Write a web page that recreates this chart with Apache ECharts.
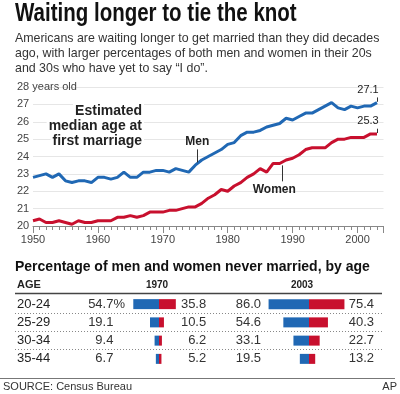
<!DOCTYPE html>
<html>
<head>
<meta charset="utf-8">
<script src="https://cdn.jsdelivr.net/npm/echarts@6/dist/echarts.min.js"></script>
<style>
  html, body { margin: 0; padding: 0; background: #fff; }
  #main { width: 400px; height: 394px; }
</style>
</head>
<body>
<div id="main"></div>
<script>
// median age at first marriage, by year
const years = [1950, 1951, 1952, 1953, 1954, 1955, 1956, 1957, 1958, 1959,
    1960, 1961, 1962, 1963, 1964, 1965, 1966, 1967, 1968, 1969,
    1970, 1971, 1972, 1973, 1974, 1975, 1976, 1977, 1978, 1979,
    1980, 1981, 1982, 1983, 1984, 1985, 1986, 1987, 1988, 1989,
    1990, 1991, 1992, 1993, 1994, 1995, 1996, 1997, 1998, 1999,
    2000, 2001, 2002, 2003];
const menAge = [22.8, 22.9, 23.0, 22.8, 23.0, 22.6, 22.5, 22.6, 22.6, 22.5,
    22.8, 22.8, 22.7, 22.8, 23.1, 22.8, 22.8, 23.1, 23.1, 23.2,
    23.2, 23.1, 23.3, 23.2, 23.1, 23.5, 23.8, 24.0, 24.2, 24.4,
    24.7, 24.8, 25.2, 25.4, 25.4, 25.5, 25.7, 25.8, 25.9, 26.2,
    26.1, 26.3, 26.5, 26.5, 26.7, 26.9, 27.1, 26.8, 26.7, 26.9,
    26.8, 26.9, 26.9, 27.1];
const womenAge = [20.3, 20.4, 20.2, 20.2, 20.3, 20.2, 20.1, 20.3, 20.2, 20.2,
    20.3, 20.3, 20.3, 20.5, 20.5, 20.6, 20.5, 20.6, 20.8, 20.8,
    20.8, 20.9, 20.9, 21.0, 21.1, 21.1, 21.3, 21.6, 21.8, 22.1,
    22.0, 22.3, 22.5, 22.8, 23.0, 23.3, 23.1, 23.6, 23.6, 23.8,
    23.9, 24.1, 24.4, 24.5, 24.5, 24.5, 24.8, 25.0, 25.0, 25.1,
    25.1, 25.1, 25.3, 25.3];

// percentage never married
const ages = ['20-24', '25-29', '30-34', '35-44'];
const men1970 = [54.7, 19.1, 9.4, 6.7];
const women1970 = [35.8, 10.5, 6.2, 5.2];
const men2003 = [86.0, 54.6, 33.1, 19.5];
const women2003 = [75.4, 40.3, 22.7, 13.2];

const BLUE = '#2068b4';
const RED = '#c8102e';
const FONT = '"Liberation Sans", Arial, sans-serif';

var chartDom = document.getElementById('main');
var myChart = echarts.init(chartDom, null, {renderer: 'canvas'});

function pairs(xs, ys) {
    return xs.map((x, i) => [x, ys[i]]);
}

function tickLabel(text, bold, dx) {
    return {
        show: true, position: 'end', distance: 2,
        offset: [dx, 0],
        formatter: text, color: '#222',
        fontFamily: FONT, fontSize: bold ? 12 : 11,
        fontWeight: bold ? 'bold' : 'normal'
    };
}

// number column as a category axis with no line
function numberAxis(gridIndex, position, margin, values, pct) {
    return {
        type: 'category', gridIndex: gridIndex, data: ages, inverse: true,
        position: position,
        axisLine: {show: false}, axisTick: {show: false}, splitLine: {show: false},
        axisLabel: {
            margin: margin, align: 'right',
            formatter: (v, i) => {
                const s = values[i].toFixed(1);
                if (!pct) return s;
                return i === 0 ? '{v|' + s + '}{p|%}' : '{v|' + s + '}{h|%}';
            },
            color: '#333', fontFamily: FONT, fontSize: 13,
            rich: {
                v: {color: '#333', fontFamily: FONT, fontSize: 13},
                p: {color: '#333', fontFamily: FONT, fontSize: 13},
                h: {color: 'rgba(0,0,0,0)', fontFamily: FONT, fontSize: 13}
            }
        }
    };
}

function barSeries(axisIdx, values, color, sign) {
    return {
        type: 'bar', xAxisIndex: axisIdx, yAxisIndex: axisIdx === 2 ? 1 : 4,
        data: values.map(v => sign * v),
        barWidth: 10, barGap: '-100%',
        itemStyle: {color: color},
        silent: true
    };
}

function noteText(text, y) {
    return {type: 'text', x: 144, y: y, z: 10, style: {
        text: text, fill: '#222', font: 'bold 14px ' + FONT,
        textAlign: 'right', textVerticalAlign: 'middle',
        backgroundColor: '#fff', padding: [0, 2]}};
}

const lastMen = menAge[menAge.length - 1];
const lastWomen = womenAge[womenAge.length - 1];
const lastYear = years[years.length - 1];

var option = {
    backgroundColor: '#fff',
    animation: false,
    grid: [
        {left: 33, right: 16.5, top: 87, height: 139},
        {left: 130.8, width: 56.4, top: 295, height: 73},
        {left: 266.7, width: 84.6, top: 295, height: 73}
    ],
    xAxis: [
        {
            type: 'value', gridIndex: 0, min: 1950, max: 2004, interval: 1,
            axisLine: {lineStyle: {color: '#888', width: 1}},
            axisTick: {length: 4, lineStyle: {color: '#888'}},
            splitLine: {show: false},
            axisLabel: {
                formatter: v => (v % 10 === 0 ? String(v) : ''),
                color: '#444', fontFamily: FONT, fontSize: 11, margin: 8
            }
        },
        {
            type: 'value', gridIndex: 0, min: 1950, max: 2004, interval: 10,
            position: 'bottom',
            axisLine: {show: false},
            axisTick: {length: 7, lineStyle: {color: '#888'}},
            axisLabel: {show: false}, splitLine: {show: false}
        },
        {type: 'value', gridIndex: 1, min: -60, max: 60, show: false},
        {type: 'value', gridIndex: 2, min: -90, max: 90, show: false}
    ],
    yAxis: [
        {
            type: 'value', gridIndex: 0, min: 20, max: 28, interval: 1,
            axisLine: {show: false}, axisTick: {show: false},
            splitLine: {lineStyle: {color: '#e6e6e6', width: 1}},
            axisLabel: {
                formatter: v => (v === 28 ? '28 years old' : String(v)),
                align: 'left', margin: 16,
                color: '#444', fontFamily: FONT, fontSize: 11
            }
        },
        {
            type: 'category', gridIndex: 1, data: ages, inverse: true, position: 'left',
            axisLine: {show: false}, axisTick: {show: false}, splitLine: {show: false},
            axisLabel: {align: 'left', margin: 113.8, color: '#222', fontFamily: FONT, fontSize: 13}
        },
        numberAxis(1, 'left', 5.8, men1970, true),
        numberAxis(1, 'right', 19, women1970, false),
        numberAxis(2, 'left', 5.7, men2003, false),
        numberAxis(2, 'right', 22.7, women2003, false)
    ],
    series: [
        {
            name: 'Men', type: 'line', xAxisIndex: 0, yAxisIndex: 0,
            data: pairs(years, menAge),
            symbol: 'none', lineStyle: {color: BLUE, width: 3}, itemStyle: {color: BLUE},
            silent: true,
            markLine: {
                silent: true, symbol: 'none',
                lineStyle: {color: '#333', width: 1, type: 'solid'},
                data: [
                    [{coord: [1975.3, 23.66], label: tickLabel('Men', true, 0)},
                     {coord: [1975.3, 24.41]}],
                    [{coord: [lastYear, lastMen + 0.05], label: tickLabel(lastMen.toFixed(1), false, -9)},
                     {coord: [lastYear, lastMen + 0.3]}]
                ]
            }
        },
        {
            name: 'Women', type: 'line', xAxisIndex: 0, yAxisIndex: 0,
            data: pairs(years, womenAge),
            symbol: 'none', lineStyle: {color: RED, width: 3}, itemStyle: {color: RED},
            silent: true,
            markLine: {
                silent: true, symbol: 'none',
                lineStyle: {color: '#333', width: 1, type: 'solid'},
                data: [
                    [{coord: [1988.4, 23.49], label: tickLabel('Women', true, -8)},
                     {coord: [1988.4, 22.57]}],
                    [{coord: [lastYear, lastWomen + 0.05], label: tickLabel(lastWomen.toFixed(1), false, -9)},
                     {coord: [lastYear, lastWomen + 0.3]}]
                ]
            }
        },
        barSeries(2, men1970, BLUE, -1),
        barSeries(2, women1970, RED, 1),
        barSeries(3, men2003, BLUE, -1),
        barSeries(3, women2003, RED, 1)
    ],
    graphic: [
        {type: 'text', x: 15, y: 14, scaleX: 0.82, style: {
            text: 'Waiting longer to tie the knot', fill: '#111',
            font: 'bold 25px ' + FONT,
            textVerticalAlign: 'middle'}},
        {type: 'text', x: 15, y: 39, style: {
            text: 'Americans are waiting longer to get married than they did decades',
            fill: '#333', font: '12.4px ' + FONT, textVerticalAlign: 'middle'}},
        {type: 'text', x: 15, y: 54, style: {
            text: 'ago, with larger percentages of both men and women in their 20s',
            fill: '#333', font: '12.4px ' + FONT, textVerticalAlign: 'middle'}},
        {type: 'text', x: 15, y: 68.5, style: {
            text: 'and 30s who have yet to say \u201cI do\u201d.',
            fill: '#333', font: '12.4px ' + FONT, textVerticalAlign: 'middle'}},
        noteText('Estimated', 111),
        noteText('median age at', 126),
        noteText('first marriage', 141),
        {type: 'text', x: 15, y: 267, style: {
            text: 'Percentage of men and women never married, by age',
            fill: '#111', font: 'bold 14px ' + FONT, textVerticalAlign: 'middle'}},
        {type: 'text', x: 17, y: 285, style: {
            text: 'AGE', fill: '#222', font: 'bold 11px ' + FONT, textVerticalAlign: 'middle'}},
        {type: 'text', x: 157, y: 285, style: {
            text: '1970', fill: '#222', font: 'bold 10px ' + FONT,
            textAlign: 'center', textVerticalAlign: 'middle'}},
        {type: 'text', x: 302, y: 285, style: {
            text: '2003', fill: '#222', font: 'bold 10px ' + FONT,
            textAlign: 'center', textVerticalAlign: 'middle'}},
        // table rules
        {type: 'line', shape: {x1: 15, y1: 293.5, x2: 382, y2: 293.5},
            style: {stroke: '#444', lineWidth: 1.5}},
        {type: 'line', shape: {x1: 15, y1: 313.5, x2: 382, y2: 313.5},
            style: {stroke: '#888', lineWidth: 1, lineDash: [1, 2]}},
        {type: 'line', shape: {x1: 15, y1: 331.5, x2: 382, y2: 331.5},
            style: {stroke: '#888', lineWidth: 1, lineDash: [1, 2]}},
        {type: 'line', shape: {x1: 15, y1: 349.5, x2: 382, y2: 349.5},
            style: {stroke: '#888', lineWidth: 1, lineDash: [1, 2]}},
        {type: 'line', shape: {x1: 0, y1: 378.5, x2: 395, y2: 378.5},
            style: {stroke: '#777', lineWidth: 1}},
        {type: 'text', x: 3, y: 387, style: {
            text: 'SOURCE: Census Bureau', fill: '#333', font: '11px ' + FONT,
            textVerticalAlign: 'middle'}},
        {type: 'text', x: 397, y: 387, style: {
            text: 'AP', fill: '#333', font: '11px ' + FONT,
            textAlign: 'right', textVerticalAlign: 'middle'}}
    ]
};

option && myChart.setOption(option);
</script>
</body>
</html>
